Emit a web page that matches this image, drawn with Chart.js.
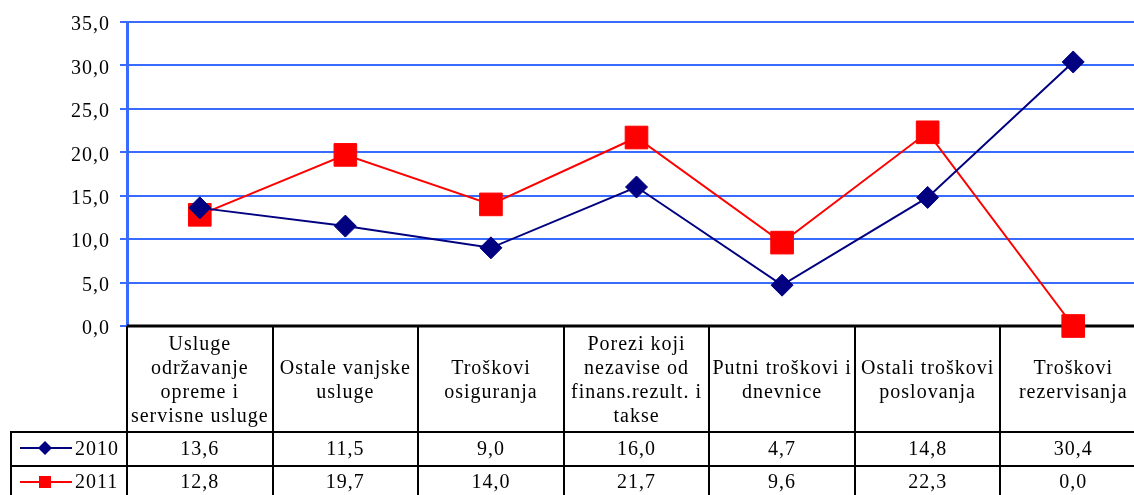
<!DOCTYPE html>
<html>
<head>
<meta charset="utf-8">
<script src="https://cdn.jsdelivr.net/npm/chart.js@4"></script>
<style>
  html, body { margin: 0; padding: 0; overflow: hidden; background: #fff; }
  canvas { display: block; }
</style>
</head>
<body>
<canvas id="grafik" width="1146" height="495"></canvas>
<script>
// kategorije (redovi teksta u zaglavlju tabele)
const kategorije = [
    ["Usluge", "održavanje", "opreme i", "servisne usluge"],
    ["Ostale vanjske", "usluge"],
    ["Troškovi", "osiguranja"],
    ["Porezi koji", "nezavise od", "finans.rezult. i", "takse"],
    ["Putni troškovi i", "dnevnice"],
    ["Ostali troškovi", "poslovanja"],
    ["Troškovi", "rezervisanja"]
];
const serije = ["2010", "2011"];
const vrijednosti2010 = [13.6, 11.5, 9.0, 16.0, 4.7, 14.8, 30.4];
const vrijednosti2011 = [12.8, 19.7, 14.0, 21.7, 9.6, 22.3, 0.0];

const FAMILIJA = "'Liberation Serif', 'Times New Roman', serif";
const FONT = "20px " + FAMILIJA;
const PLAVA = "#3A6BFF";
const format = (v) => v.toFixed(1).replace(".", ",");

// crta marker (romb ili kvadrat)
const marker = (ctx, tip, x, y, r, boja) => {
    ctx.fillStyle = boja;
    ctx.beginPath();
    if (tip === "romb") {
        ctx.moveTo(x, y - r); ctx.lineTo(x + r, y); ctx.lineTo(x, y + r); ctx.lineTo(x - r, y);
    } else {
        ctx.rect(x - r, y - r, 2 * r, 2 * r);
    }
    ctx.closePath();
    ctx.fill();
};

// razmak slova kao u originalu
const razmakPlugin = {
    id: "razmak",
    beforeDraw(chart) { chart.ctx.letterSpacing = "1px"; }
};

// tabela sa podacima ispod grafika
const tabelaPlugin = {
    id: "tabela",
    beforeDatasetsDraw(chart) {
        const ctx = chart.ctx;
        const xs = chart.scales.x;
        const area = chart.chartArea;
        const n = kategorije.length;
        const cw = (area.right - area.left) / n;
        const yHeader = area.bottom;
        const yRed1 = 432, yRed2 = 466, yKraj = 500;
        const xLegenda = 11;

        ctx.save();
        ctx.letterSpacing = "1px";
        ctx.strokeStyle = "#000";
        // vertikalne linije
        ctx.lineWidth = 2;
        for (let i = 0; i <= n; i++) {
            const x = Math.round(area.left + i * cw);
            ctx.beginPath(); ctx.moveTo(x, yHeader); ctx.lineTo(x, yKraj); ctx.stroke();
        }
        ctx.beginPath(); ctx.moveTo(xLegenda, yRed1); ctx.lineTo(xLegenda, yKraj); ctx.stroke();
        // horizontalne linije
        [yRed1, yRed2].forEach(y => {
            ctx.beginPath(); ctx.moveTo(xLegenda - 1, y); ctx.lineTo(area.right, y); ctx.stroke();
        });
        ctx.lineWidth = 3;
        ctx.beginPath(); ctx.moveTo(area.left, yHeader); ctx.lineTo(area.right, yHeader); ctx.stroke();

        // tekst zaglavlja
        ctx.font = FONT;
        ctx.fillStyle = "#000";
        ctx.textAlign = "center";
        ctx.textBaseline = "middle";
        const lh = 24;
        kategorije.forEach((redovi, i) => {
            const cx = xs.getPixelForValue(i);
            const cy = (yHeader + yRed1) / 2 + 2;
            const y0 = cy - (redovi.length - 1) * lh / 2;
            redovi.forEach((t, k) => ctx.fillText(t, cx, y0 + k * lh));
        });

        // redovi sa vrijednostima
        const redovi = [
            { y: 450, yl: 448, podaci: vrijednosti2010, boja: "#000080", tip: "romb", r: 7 },
            { y: 483, yl: 482, podaci: vrijednosti2011, boja: "#FF0000", tip: "kvadrat", r: 6 }
        ];
        redovi.forEach((red, j) => {
            ctx.fillStyle = "#000";
            ctx.textAlign = "center";
            red.podaci.forEach((v, i) => ctx.fillText(format(v), xs.getPixelForValue(i), red.y));
            // legenda
            ctx.strokeStyle = red.boja;
            ctx.lineWidth = 2;
            ctx.beginPath(); ctx.moveTo(20, red.yl); ctx.lineTo(72, red.yl); ctx.stroke();
            marker(ctx, red.tip, 45, red.yl, red.r, red.boja);
            ctx.fillStyle = "#000";
            ctx.textAlign = "left";
            ctx.fillText(serije[j], 75, red.y);
        });
        ctx.restore();
    }
};

new Chart(document.getElementById("grafik"), {
    type: "line",
    data: {
        labels: kategorije.map(k => k.join(" ")),
        datasets: [{
            label: serije[0],
            data: vrijednosti2010,
            borderColor: "#000080",
            backgroundColor: "#000080",
            borderWidth: 2,
            pointStyle: "rectRot",
            pointRadius: 11,
            pointHoverRadius: 11,
            pointBorderWidth: 1,
            clip: false
        }, {
            label: serije[1],
            data: vrijednosti2011,
            borderColor: "#FF0000",
            backgroundColor: "#FF0000",
            borderWidth: 2,
            pointStyle: "rect",
            pointRadius: 16,
            pointHoverRadius: 16,
            pointBorderWidth: 1,
            clip: false
        }]
    },
    options: {
        responsive: false,
        devicePixelRatio: 1,
        animation: false,
        layout: { autoPadding: false, padding: { top: 21, bottom: 169, left: 0, right: 0 } },
        plugins: { legend: { display: false }, tooltip: { enabled: false } },
        scales: {
            x: { display: false, offset: true },
            y: {
                min: 0,
                max: 35,
                afterFit: (s) => { s.width = 127; },
                ticks: {
                    stepSize: 5,
                    color: "#000",
                    padding: 10,
                    labelOffset: 3,
                    font: { family: FAMILIJA, size: 20 },
                    callback: (v) => format(v)
                },
                grid: { color: PLAVA, lineWidth: 2, tickLength: 7 },
                border: { color: PLAVA, width: 3 }
            }
        }
    },
    plugins: [razmakPlugin, tabelaPlugin]
});
</script>
</body>
</html>
